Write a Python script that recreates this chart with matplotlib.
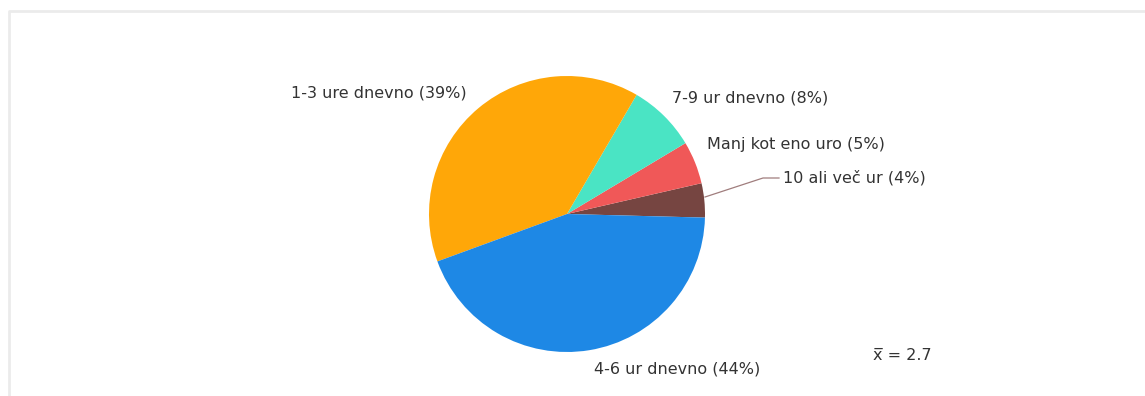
import numpy as np
import matplotlib.pyplot as plt

# Podatki: koliko ur dnevno
kategorije = ["10 ali več ur", "Manj kot eno uro", "7-9 ur dnevno", "1-3 ure dnevno", "4-6 ur dnevno"]
deleži = [4, 5, 8, 39, 44]
barve = ["#764541", "#f05858", "#4ae4c4", "#ffa708", "#1e88e5"]
povprečje = 2.7

W, H = 1145, 396
fig = plt.figure(figsize=(W / 100, H / 100), dpi=100)
ax = fig.add_axes([0, 0, 1, 1])

# Okvir
ax.plot([9, 9, W], [0, H - 10.5, H - 10.5], color="#ebebeb", lw=2, solid_capstyle="butt")

# Tortni graf
ax.pie(deleži, colors=barve, startangle=-1.5, counterclock=True,
       center=(567, H - 214), radius=138, frame=True,
       wedgeprops=dict(linewidth=0))
ax.set_xlim(0, W)
ax.set_ylim(0, H)
ax.set_aspect("equal")
ax.axis("off")

# Oznake
pisava = dict(fontsize=11.5, color="#333333", va="center", ha="left", family="DejaVu Sans")
pozicije = [(783, 178), (707, 145), (672, 98), (291, 93), (594, 369)]
for ime, d, (x, y) in zip(kategorije, deleži, pozicije):
    ax.text(x, H - y, f"{ime} ({d}%)", **pisava)

# Povezovalna črta za najmanjši delež
ax.plot([705, 763, 779], [H - 197, H - 178, H - 178], color="#a07d7d", lw=0.9)

ax.text(873, H - 355, f"x\u0305 = {povprečje}", **pisava)

fig.savefig("out.png", dpi=100, facecolor="white")
